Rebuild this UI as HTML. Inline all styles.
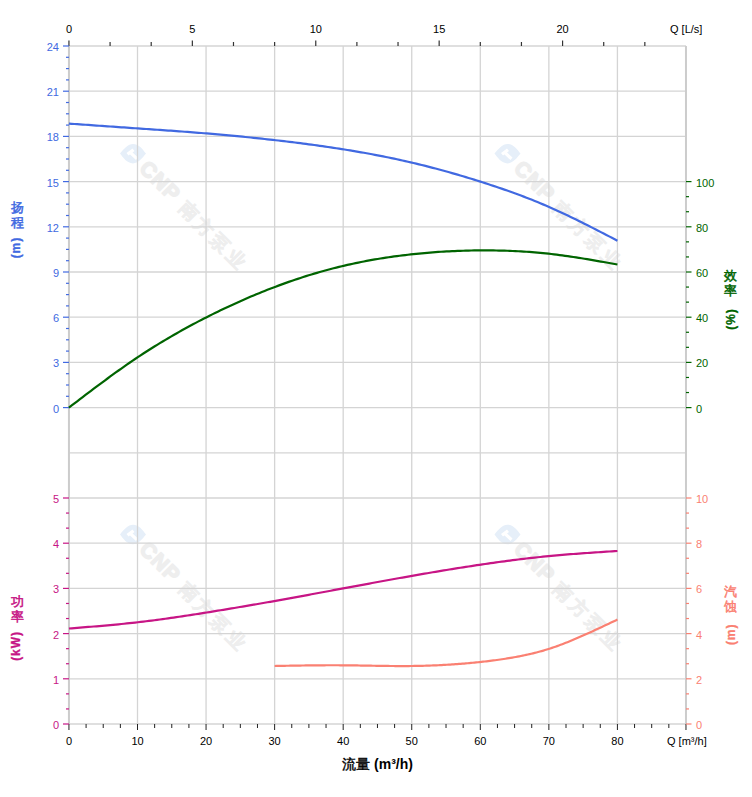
<!DOCTYPE html>
<html><head><meta charset="utf-8"><style>
html,body{margin:0;padding:0;background:#fff;width:752px;height:797px;overflow:hidden;position:relative}
svg{position:absolute;left:0;top:0}
.xt{position:absolute;font-family:"Liberation Sans",sans-serif;font-weight:bold;font-size:14px;line-height:14px;white-space:nowrap;color:#000}
</style></head><body>
<svg width="752" height="797" viewBox="0 0 752 797">
<g transform="translate(133,153.6)">
<path d="M-13,0 C-9,-5 -5,-9.7 0,-9.7 C6,-9.7 10,-4 13,0 C9,5 5,9.8 0,9.8 C-6,9.8 -10,4 -13,0 Z" fill="#e6eff9"/>
<path d="M-6.5,-0.5 L-0.5,-5 L1.5,-2.5 L-4.5,2 Z M-2,-2.5 L5,4 L3,6.5 L-4,0 Z" fill="#ffffff"/>
</g>
<g transform="translate(133,153.6) rotate(45)">
<text x="15" y="7.5" font-family="'Liberation Sans', sans-serif" font-weight="bold" font-size="21" letter-spacing="1" fill="#eeeeee" stroke="#eeeeee" stroke-width="1.6" stroke-linejoin="round">CNP</text>
<text x="71" y="8" font-family="'Liberation Sans', sans-serif" font-weight="bold" font-size="18.5" letter-spacing="3.4" fill="#eeeeee" stroke="#eeeeee" stroke-width="0.6">南方泵业</text>
</g>
<g transform="translate(507.5,153.6)">
<path d="M-13,0 C-9,-5 -5,-9.7 0,-9.7 C6,-9.7 10,-4 13,0 C9,5 5,9.8 0,9.8 C-6,9.8 -10,4 -13,0 Z" fill="#e6eff9"/>
<path d="M-6.5,-0.5 L-0.5,-5 L1.5,-2.5 L-4.5,2 Z M-2,-2.5 L5,4 L3,6.5 L-4,0 Z" fill="#ffffff"/>
</g>
<g transform="translate(507.5,153.6) rotate(45)">
<text x="15" y="7.5" font-family="'Liberation Sans', sans-serif" font-weight="bold" font-size="21" letter-spacing="1" fill="#eeeeee" stroke="#eeeeee" stroke-width="1.6" stroke-linejoin="round">CNP</text>
<text x="71" y="8" font-family="'Liberation Sans', sans-serif" font-weight="bold" font-size="18.5" letter-spacing="3.4" fill="#eeeeee" stroke="#eeeeee" stroke-width="0.6">南方泵业</text>
</g>
<g transform="translate(133,534.5)">
<path d="M-13,0 C-9,-5 -5,-9.7 0,-9.7 C6,-9.7 10,-4 13,0 C9,5 5,9.8 0,9.8 C-6,9.8 -10,4 -13,0 Z" fill="#e6eff9"/>
<path d="M-6.5,-0.5 L-0.5,-5 L1.5,-2.5 L-4.5,2 Z M-2,-2.5 L5,4 L3,6.5 L-4,0 Z" fill="#ffffff"/>
</g>
<g transform="translate(133,534.5) rotate(45)">
<text x="15" y="7.5" font-family="'Liberation Sans', sans-serif" font-weight="bold" font-size="21" letter-spacing="1" fill="#eeeeee" stroke="#eeeeee" stroke-width="1.6" stroke-linejoin="round">CNP</text>
<text x="71" y="8" font-family="'Liberation Sans', sans-serif" font-weight="bold" font-size="18.5" letter-spacing="3.4" fill="#eeeeee" stroke="#eeeeee" stroke-width="0.6">南方泵业</text>
</g>
<g transform="translate(507.5,534.5)">
<path d="M-13,0 C-9,-5 -5,-9.7 0,-9.7 C6,-9.7 10,-4 13,0 C9,5 5,9.8 0,9.8 C-6,9.8 -10,4 -13,0 Z" fill="#e6eff9"/>
<path d="M-6.5,-0.5 L-0.5,-5 L1.5,-2.5 L-4.5,2 Z M-2,-2.5 L5,4 L3,6.5 L-4,0 Z" fill="#ffffff"/>
</g>
<g transform="translate(507.5,534.5) rotate(45)">
<text x="15" y="7.5" font-family="'Liberation Sans', sans-serif" font-weight="bold" font-size="21" letter-spacing="1" fill="#eeeeee" stroke="#eeeeee" stroke-width="1.6" stroke-linejoin="round">CNP</text>
<text x="71" y="8" font-family="'Liberation Sans', sans-serif" font-weight="bold" font-size="18.5" letter-spacing="3.4" fill="#eeeeee" stroke="#eeeeee" stroke-width="0.6">南方泵业</text>
</g>
<line x1="68.94" y1="46.0" x2="685.98" y2="46.0" stroke="#d4d4d4" stroke-width="1.3"/>
<line x1="68.94" y1="91.2" x2="685.98" y2="91.2" stroke="#d4d4d4" stroke-width="1.3"/>
<line x1="68.94" y1="136.4" x2="685.98" y2="136.4" stroke="#d4d4d4" stroke-width="1.3"/>
<line x1="68.94" y1="181.60000000000002" x2="685.98" y2="181.60000000000002" stroke="#d4d4d4" stroke-width="1.3"/>
<line x1="68.94" y1="226.8" x2="685.98" y2="226.8" stroke="#d4d4d4" stroke-width="1.3"/>
<line x1="68.94" y1="272.0" x2="685.98" y2="272.0" stroke="#d4d4d4" stroke-width="1.3"/>
<line x1="68.94" y1="317.20000000000005" x2="685.98" y2="317.20000000000005" stroke="#d4d4d4" stroke-width="1.3"/>
<line x1="68.94" y1="362.40000000000003" x2="685.98" y2="362.40000000000003" stroke="#d4d4d4" stroke-width="1.3"/>
<line x1="68.94" y1="407.6" x2="685.98" y2="407.6" stroke="#d4d4d4" stroke-width="1.3"/>
<line x1="68.94" y1="452.8" x2="685.98" y2="452.8" stroke="#d4d4d4" stroke-width="1.3"/>
<line x1="68.94" y1="498.0" x2="685.98" y2="498.0" stroke="#d4d4d4" stroke-width="1.3"/>
<line x1="68.94" y1="543.2" x2="685.98" y2="543.2" stroke="#d4d4d4" stroke-width="1.3"/>
<line x1="68.94" y1="588.4000000000001" x2="685.98" y2="588.4000000000001" stroke="#d4d4d4" stroke-width="1.3"/>
<line x1="68.94" y1="633.6" x2="685.98" y2="633.6" stroke="#d4d4d4" stroke-width="1.3"/>
<line x1="68.94" y1="678.8000000000001" x2="685.98" y2="678.8000000000001" stroke="#d4d4d4" stroke-width="1.3"/>
<line x1="68.94" y1="724.0" x2="685.98" y2="724.0" stroke="#d4d4d4" stroke-width="1.3"/>
<line x1="68.94" y1="46.0" x2="68.94" y2="724.0" stroke="#d4d4d4" stroke-width="1.3"/>
<line x1="137.5" y1="46.0" x2="137.5" y2="724.0" stroke="#d4d4d4" stroke-width="1.3"/>
<line x1="206.06" y1="46.0" x2="206.06" y2="724.0" stroke="#d4d4d4" stroke-width="1.3"/>
<line x1="274.62" y1="46.0" x2="274.62" y2="724.0" stroke="#d4d4d4" stroke-width="1.3"/>
<line x1="343.18" y1="46.0" x2="343.18" y2="724.0" stroke="#d4d4d4" stroke-width="1.3"/>
<line x1="411.74" y1="46.0" x2="411.74" y2="724.0" stroke="#d4d4d4" stroke-width="1.3"/>
<line x1="480.3" y1="46.0" x2="480.3" y2="724.0" stroke="#d4d4d4" stroke-width="1.3"/>
<line x1="548.86" y1="46.0" x2="548.86" y2="724.0" stroke="#d4d4d4" stroke-width="1.3"/>
<line x1="617.4200000000001" y1="46.0" x2="617.4200000000001" y2="724.0" stroke="#d4d4d4" stroke-width="1.3"/>
<line x1="685.98" y1="46.0" x2="685.98" y2="724.0" stroke="#d4d4d4" stroke-width="1.3"/>
<line x1="68.94" y1="46.0" x2="68.94" y2="724.0" stroke="#cccccc" stroke-width="2"/>
<line x1="685.98" y1="46.0" x2="685.98" y2="724.0" stroke="#cccccc" stroke-width="2"/>
<line x1="68.94" y1="40.50" x2="68.94" y2="46.0" stroke="#333" stroke-width="1.2"/>
<line x1="110.08" y1="42.00" x2="110.08" y2="46.0" stroke="#333" stroke-width="1.2"/>
<line x1="151.21" y1="42.00" x2="151.21" y2="46.0" stroke="#333" stroke-width="1.2"/>
<line x1="192.35" y1="40.50" x2="192.35" y2="46.0" stroke="#333" stroke-width="1.2"/>
<line x1="233.48" y1="42.00" x2="233.48" y2="46.0" stroke="#333" stroke-width="1.2"/>
<line x1="274.62" y1="42.00" x2="274.62" y2="46.0" stroke="#333" stroke-width="1.2"/>
<line x1="315.76" y1="40.50" x2="315.76" y2="46.0" stroke="#333" stroke-width="1.2"/>
<line x1="356.89" y1="42.00" x2="356.89" y2="46.0" stroke="#333" stroke-width="1.2"/>
<line x1="398.03" y1="42.00" x2="398.03" y2="46.0" stroke="#333" stroke-width="1.2"/>
<line x1="439.16" y1="40.50" x2="439.16" y2="46.0" stroke="#333" stroke-width="1.2"/>
<line x1="480.30" y1="42.00" x2="480.30" y2="46.0" stroke="#333" stroke-width="1.2"/>
<line x1="521.44" y1="42.00" x2="521.44" y2="46.0" stroke="#333" stroke-width="1.2"/>
<line x1="562.57" y1="40.50" x2="562.57" y2="46.0" stroke="#333" stroke-width="1.2"/>
<line x1="603.71" y1="42.00" x2="603.71" y2="46.0" stroke="#333" stroke-width="1.2"/>
<line x1="644.84" y1="42.00" x2="644.84" y2="46.0" stroke="#333" stroke-width="1.2"/>
<text x="68.94" y="33" text-anchor="middle" font-family="'Liberation Sans', sans-serif" font-size="11" fill="#000">0</text>
<text x="192.35" y="33" text-anchor="middle" font-family="'Liberation Sans', sans-serif" font-size="11" fill="#000">5</text>
<text x="315.76" y="33" text-anchor="middle" font-family="'Liberation Sans', sans-serif" font-size="11" fill="#000">10</text>
<text x="439.16" y="33" text-anchor="middle" font-family="'Liberation Sans', sans-serif" font-size="11" fill="#000">15</text>
<text x="562.57" y="33" text-anchor="middle" font-family="'Liberation Sans', sans-serif" font-size="11" fill="#000">20</text>
<text x="670" y="33" font-family="'Liberation Sans', sans-serif" font-size="11" fill="#000">Q [L/s]</text>
<line x1="68.94" y1="724.0" x2="68.94" y2="730.0" stroke="#222" stroke-width="1"/>
<line x1="86.08" y1="724.0" x2="86.08" y2="728.0" stroke="#222" stroke-width="1"/>
<line x1="103.22" y1="724.0" x2="103.22" y2="728.0" stroke="#222" stroke-width="1"/>
<line x1="120.36" y1="724.0" x2="120.36" y2="728.0" stroke="#222" stroke-width="1"/>
<line x1="137.50" y1="724.0" x2="137.50" y2="730.0" stroke="#222" stroke-width="1"/>
<line x1="154.64" y1="724.0" x2="154.64" y2="728.0" stroke="#222" stroke-width="1"/>
<line x1="171.78" y1="724.0" x2="171.78" y2="728.0" stroke="#222" stroke-width="1"/>
<line x1="188.92" y1="724.0" x2="188.92" y2="728.0" stroke="#222" stroke-width="1"/>
<line x1="206.06" y1="724.0" x2="206.06" y2="730.0" stroke="#222" stroke-width="1"/>
<line x1="223.20" y1="724.0" x2="223.20" y2="728.0" stroke="#222" stroke-width="1"/>
<line x1="240.34" y1="724.0" x2="240.34" y2="728.0" stroke="#222" stroke-width="1"/>
<line x1="257.48" y1="724.0" x2="257.48" y2="728.0" stroke="#222" stroke-width="1"/>
<line x1="274.62" y1="724.0" x2="274.62" y2="730.0" stroke="#222" stroke-width="1"/>
<line x1="291.76" y1="724.0" x2="291.76" y2="728.0" stroke="#222" stroke-width="1"/>
<line x1="308.90" y1="724.0" x2="308.90" y2="728.0" stroke="#222" stroke-width="1"/>
<line x1="326.04" y1="724.0" x2="326.04" y2="728.0" stroke="#222" stroke-width="1"/>
<line x1="343.18" y1="724.0" x2="343.18" y2="730.0" stroke="#222" stroke-width="1"/>
<line x1="360.32" y1="724.0" x2="360.32" y2="728.0" stroke="#222" stroke-width="1"/>
<line x1="377.46" y1="724.0" x2="377.46" y2="728.0" stroke="#222" stroke-width="1"/>
<line x1="394.60" y1="724.0" x2="394.60" y2="728.0" stroke="#222" stroke-width="1"/>
<line x1="411.74" y1="724.0" x2="411.74" y2="730.0" stroke="#222" stroke-width="1"/>
<line x1="428.88" y1="724.0" x2="428.88" y2="728.0" stroke="#222" stroke-width="1"/>
<line x1="446.02" y1="724.0" x2="446.02" y2="728.0" stroke="#222" stroke-width="1"/>
<line x1="463.16" y1="724.0" x2="463.16" y2="728.0" stroke="#222" stroke-width="1"/>
<line x1="480.30" y1="724.0" x2="480.30" y2="730.0" stroke="#222" stroke-width="1"/>
<line x1="497.44" y1="724.0" x2="497.44" y2="728.0" stroke="#222" stroke-width="1"/>
<line x1="514.58" y1="724.0" x2="514.58" y2="728.0" stroke="#222" stroke-width="1"/>
<line x1="531.72" y1="724.0" x2="531.72" y2="728.0" stroke="#222" stroke-width="1"/>
<line x1="548.86" y1="724.0" x2="548.86" y2="730.0" stroke="#222" stroke-width="1"/>
<line x1="566.00" y1="724.0" x2="566.00" y2="728.0" stroke="#222" stroke-width="1"/>
<line x1="583.14" y1="724.0" x2="583.14" y2="728.0" stroke="#222" stroke-width="1"/>
<line x1="600.28" y1="724.0" x2="600.28" y2="728.0" stroke="#222" stroke-width="1"/>
<line x1="617.42" y1="724.0" x2="617.42" y2="730.0" stroke="#222" stroke-width="1"/>
<line x1="634.56" y1="724.0" x2="634.56" y2="728.0" stroke="#222" stroke-width="1"/>
<line x1="651.70" y1="724.0" x2="651.70" y2="728.0" stroke="#222" stroke-width="1"/>
<line x1="668.84" y1="724.0" x2="668.84" y2="728.0" stroke="#222" stroke-width="1"/>
<line x1="685.98" y1="724.0" x2="685.98" y2="730.0" stroke="#222" stroke-width="1"/>
<text x="68.94" y="745" text-anchor="middle" font-family="'Liberation Sans', sans-serif" font-size="11" fill="#000">0</text>
<text x="137.50" y="745" text-anchor="middle" font-family="'Liberation Sans', sans-serif" font-size="11" fill="#000">10</text>
<text x="206.06" y="745" text-anchor="middle" font-family="'Liberation Sans', sans-serif" font-size="11" fill="#000">20</text>
<text x="274.62" y="745" text-anchor="middle" font-family="'Liberation Sans', sans-serif" font-size="11" fill="#000">30</text>
<text x="343.18" y="745" text-anchor="middle" font-family="'Liberation Sans', sans-serif" font-size="11" fill="#000">40</text>
<text x="411.74" y="745" text-anchor="middle" font-family="'Liberation Sans', sans-serif" font-size="11" fill="#000">50</text>
<text x="480.30" y="745" text-anchor="middle" font-family="'Liberation Sans', sans-serif" font-size="11" fill="#000">60</text>
<text x="548.86" y="745" text-anchor="middle" font-family="'Liberation Sans', sans-serif" font-size="11" fill="#000">70</text>
<text x="617.42" y="745" text-anchor="middle" font-family="'Liberation Sans', sans-serif" font-size="11" fill="#000">80</text>
<text x="667" y="745" font-family="'Liberation Sans', sans-serif" font-size="11" fill="#000">Q [m³/h]</text>
<line x1="63" y1="407.60" x2="68.94" y2="407.60" stroke="#4169E1" stroke-width="1.2"/>
<text x="59" y="412.60" text-anchor="end" font-family="'Liberation Sans', sans-serif" font-size="11" fill="#4169E1">0</text>
<line x1="66" y1="396.30" x2="68.94" y2="396.30" stroke="#4169E1" stroke-width="1.2"/>
<line x1="66" y1="385.00" x2="68.94" y2="385.00" stroke="#4169E1" stroke-width="1.2"/>
<line x1="66" y1="373.70" x2="68.94" y2="373.70" stroke="#4169E1" stroke-width="1.2"/>
<line x1="63" y1="362.40" x2="68.94" y2="362.40" stroke="#4169E1" stroke-width="1.2"/>
<text x="59" y="367.40" text-anchor="end" font-family="'Liberation Sans', sans-serif" font-size="11" fill="#4169E1">3</text>
<line x1="66" y1="351.10" x2="68.94" y2="351.10" stroke="#4169E1" stroke-width="1.2"/>
<line x1="66" y1="339.80" x2="68.94" y2="339.80" stroke="#4169E1" stroke-width="1.2"/>
<line x1="66" y1="328.50" x2="68.94" y2="328.50" stroke="#4169E1" stroke-width="1.2"/>
<line x1="63" y1="317.20" x2="68.94" y2="317.20" stroke="#4169E1" stroke-width="1.2"/>
<text x="59" y="322.20" text-anchor="end" font-family="'Liberation Sans', sans-serif" font-size="11" fill="#4169E1">6</text>
<line x1="66" y1="305.90" x2="68.94" y2="305.90" stroke="#4169E1" stroke-width="1.2"/>
<line x1="66" y1="294.60" x2="68.94" y2="294.60" stroke="#4169E1" stroke-width="1.2"/>
<line x1="66" y1="283.30" x2="68.94" y2="283.30" stroke="#4169E1" stroke-width="1.2"/>
<line x1="63" y1="272.00" x2="68.94" y2="272.00" stroke="#4169E1" stroke-width="1.2"/>
<text x="59" y="277.00" text-anchor="end" font-family="'Liberation Sans', sans-serif" font-size="11" fill="#4169E1">9</text>
<line x1="66" y1="260.70" x2="68.94" y2="260.70" stroke="#4169E1" stroke-width="1.2"/>
<line x1="66" y1="249.40" x2="68.94" y2="249.40" stroke="#4169E1" stroke-width="1.2"/>
<line x1="66" y1="238.10" x2="68.94" y2="238.10" stroke="#4169E1" stroke-width="1.2"/>
<line x1="63" y1="226.80" x2="68.94" y2="226.80" stroke="#4169E1" stroke-width="1.2"/>
<text x="59" y="231.80" text-anchor="end" font-family="'Liberation Sans', sans-serif" font-size="11" fill="#4169E1">12</text>
<line x1="66" y1="215.50" x2="68.94" y2="215.50" stroke="#4169E1" stroke-width="1.2"/>
<line x1="66" y1="204.20" x2="68.94" y2="204.20" stroke="#4169E1" stroke-width="1.2"/>
<line x1="66" y1="192.90" x2="68.94" y2="192.90" stroke="#4169E1" stroke-width="1.2"/>
<line x1="63" y1="181.60" x2="68.94" y2="181.60" stroke="#4169E1" stroke-width="1.2"/>
<text x="59" y="186.60" text-anchor="end" font-family="'Liberation Sans', sans-serif" font-size="11" fill="#4169E1">15</text>
<line x1="66" y1="170.30" x2="68.94" y2="170.30" stroke="#4169E1" stroke-width="1.2"/>
<line x1="66" y1="159.00" x2="68.94" y2="159.00" stroke="#4169E1" stroke-width="1.2"/>
<line x1="66" y1="147.70" x2="68.94" y2="147.70" stroke="#4169E1" stroke-width="1.2"/>
<line x1="63" y1="136.40" x2="68.94" y2="136.40" stroke="#4169E1" stroke-width="1.2"/>
<text x="59" y="141.40" text-anchor="end" font-family="'Liberation Sans', sans-serif" font-size="11" fill="#4169E1">18</text>
<line x1="66" y1="125.10" x2="68.94" y2="125.10" stroke="#4169E1" stroke-width="1.2"/>
<line x1="66" y1="113.80" x2="68.94" y2="113.80" stroke="#4169E1" stroke-width="1.2"/>
<line x1="66" y1="102.50" x2="68.94" y2="102.50" stroke="#4169E1" stroke-width="1.2"/>
<line x1="63" y1="91.20" x2="68.94" y2="91.20" stroke="#4169E1" stroke-width="1.2"/>
<text x="59" y="96.20" text-anchor="end" font-family="'Liberation Sans', sans-serif" font-size="11" fill="#4169E1">21</text>
<line x1="66" y1="79.90" x2="68.94" y2="79.90" stroke="#4169E1" stroke-width="1.2"/>
<line x1="66" y1="68.60" x2="68.94" y2="68.60" stroke="#4169E1" stroke-width="1.2"/>
<line x1="66" y1="57.30" x2="68.94" y2="57.30" stroke="#4169E1" stroke-width="1.2"/>
<line x1="63" y1="46.00" x2="68.94" y2="46.00" stroke="#4169E1" stroke-width="1.2"/>
<text x="59" y="51.00" text-anchor="end" font-family="'Liberation Sans', sans-serif" font-size="11" fill="#4169E1">24</text>
<line x1="63" y1="724.00" x2="68.94" y2="724.00" stroke="#C71585" stroke-width="1.2"/>
<text x="59" y="729.00" text-anchor="end" font-family="'Liberation Sans', sans-serif" font-size="11" fill="#C71585">0</text>
<line x1="66" y1="708.93" x2="68.94" y2="708.93" stroke="#C71585" stroke-width="1.2"/>
<line x1="66" y1="693.87" x2="68.94" y2="693.87" stroke="#C71585" stroke-width="1.2"/>
<line x1="63" y1="678.80" x2="68.94" y2="678.80" stroke="#C71585" stroke-width="1.2"/>
<text x="59" y="683.80" text-anchor="end" font-family="'Liberation Sans', sans-serif" font-size="11" fill="#C71585">1</text>
<line x1="66" y1="663.73" x2="68.94" y2="663.73" stroke="#C71585" stroke-width="1.2"/>
<line x1="66" y1="648.67" x2="68.94" y2="648.67" stroke="#C71585" stroke-width="1.2"/>
<line x1="63" y1="633.60" x2="68.94" y2="633.60" stroke="#C71585" stroke-width="1.2"/>
<text x="59" y="638.60" text-anchor="end" font-family="'Liberation Sans', sans-serif" font-size="11" fill="#C71585">2</text>
<line x1="66" y1="618.53" x2="68.94" y2="618.53" stroke="#C71585" stroke-width="1.2"/>
<line x1="66" y1="603.47" x2="68.94" y2="603.47" stroke="#C71585" stroke-width="1.2"/>
<line x1="63" y1="588.40" x2="68.94" y2="588.40" stroke="#C71585" stroke-width="1.2"/>
<text x="59" y="593.40" text-anchor="end" font-family="'Liberation Sans', sans-serif" font-size="11" fill="#C71585">3</text>
<line x1="66" y1="573.33" x2="68.94" y2="573.33" stroke="#C71585" stroke-width="1.2"/>
<line x1="66" y1="558.27" x2="68.94" y2="558.27" stroke="#C71585" stroke-width="1.2"/>
<line x1="63" y1="543.20" x2="68.94" y2="543.20" stroke="#C71585" stroke-width="1.2"/>
<text x="59" y="548.20" text-anchor="end" font-family="'Liberation Sans', sans-serif" font-size="11" fill="#C71585">4</text>
<line x1="66" y1="528.13" x2="68.94" y2="528.13" stroke="#C71585" stroke-width="1.2"/>
<line x1="66" y1="513.07" x2="68.94" y2="513.07" stroke="#C71585" stroke-width="1.2"/>
<line x1="63" y1="498.00" x2="68.94" y2="498.00" stroke="#C71585" stroke-width="1.2"/>
<text x="59" y="503.00" text-anchor="end" font-family="'Liberation Sans', sans-serif" font-size="11" fill="#C71585">5</text>
<line x1="685.98" y1="407.60" x2="691.5" y2="407.60" stroke="#006400" stroke-width="1.2"/>
<text x="696" y="412.60" font-family="'Liberation Sans', sans-serif" font-size="11" fill="#006400">0</text>
<line x1="685.98" y1="392.53" x2="689" y2="392.53" stroke="#006400" stroke-width="1.2"/>
<line x1="685.98" y1="377.47" x2="689" y2="377.47" stroke="#006400" stroke-width="1.2"/>
<line x1="685.98" y1="362.40" x2="691.5" y2="362.40" stroke="#006400" stroke-width="1.2"/>
<text x="696" y="367.40" font-family="'Liberation Sans', sans-serif" font-size="11" fill="#006400">20</text>
<line x1="685.98" y1="347.33" x2="689" y2="347.33" stroke="#006400" stroke-width="1.2"/>
<line x1="685.98" y1="332.27" x2="689" y2="332.27" stroke="#006400" stroke-width="1.2"/>
<line x1="685.98" y1="317.20" x2="691.5" y2="317.20" stroke="#006400" stroke-width="1.2"/>
<text x="696" y="322.20" font-family="'Liberation Sans', sans-serif" font-size="11" fill="#006400">40</text>
<line x1="685.98" y1="302.13" x2="689" y2="302.13" stroke="#006400" stroke-width="1.2"/>
<line x1="685.98" y1="287.07" x2="689" y2="287.07" stroke="#006400" stroke-width="1.2"/>
<line x1="685.98" y1="272.00" x2="691.5" y2="272.00" stroke="#006400" stroke-width="1.2"/>
<text x="696" y="277.00" font-family="'Liberation Sans', sans-serif" font-size="11" fill="#006400">60</text>
<line x1="685.98" y1="256.93" x2="689" y2="256.93" stroke="#006400" stroke-width="1.2"/>
<line x1="685.98" y1="241.87" x2="689" y2="241.87" stroke="#006400" stroke-width="1.2"/>
<line x1="685.98" y1="226.80" x2="691.5" y2="226.80" stroke="#006400" stroke-width="1.2"/>
<text x="696" y="231.80" font-family="'Liberation Sans', sans-serif" font-size="11" fill="#006400">80</text>
<line x1="685.98" y1="211.73" x2="689" y2="211.73" stroke="#006400" stroke-width="1.2"/>
<line x1="685.98" y1="196.67" x2="689" y2="196.67" stroke="#006400" stroke-width="1.2"/>
<line x1="685.98" y1="181.60" x2="691.5" y2="181.60" stroke="#006400" stroke-width="1.2"/>
<text x="696" y="186.60" font-family="'Liberation Sans', sans-serif" font-size="11" fill="#006400">100</text>
<line x1="685.98" y1="724.00" x2="691.5" y2="724.00" stroke="#FA8072" stroke-width="1.2"/>
<text x="696" y="729.00" font-family="'Liberation Sans', sans-serif" font-size="11" fill="#FA8072">0</text>
<line x1="685.98" y1="708.93" x2="689" y2="708.93" stroke="#FA8072" stroke-width="1.2"/>
<line x1="685.98" y1="693.87" x2="689" y2="693.87" stroke="#FA8072" stroke-width="1.2"/>
<line x1="685.98" y1="678.80" x2="691.5" y2="678.80" stroke="#FA8072" stroke-width="1.2"/>
<text x="696" y="683.80" font-family="'Liberation Sans', sans-serif" font-size="11" fill="#FA8072">2</text>
<line x1="685.98" y1="663.73" x2="689" y2="663.73" stroke="#FA8072" stroke-width="1.2"/>
<line x1="685.98" y1="648.67" x2="689" y2="648.67" stroke="#FA8072" stroke-width="1.2"/>
<line x1="685.98" y1="633.60" x2="691.5" y2="633.60" stroke="#FA8072" stroke-width="1.2"/>
<text x="696" y="638.60" font-family="'Liberation Sans', sans-serif" font-size="11" fill="#FA8072">4</text>
<line x1="685.98" y1="618.53" x2="689" y2="618.53" stroke="#FA8072" stroke-width="1.2"/>
<line x1="685.98" y1="603.47" x2="689" y2="603.47" stroke="#FA8072" stroke-width="1.2"/>
<line x1="685.98" y1="588.40" x2="691.5" y2="588.40" stroke="#FA8072" stroke-width="1.2"/>
<text x="696" y="593.40" font-family="'Liberation Sans', sans-serif" font-size="11" fill="#FA8072">6</text>
<line x1="685.98" y1="573.33" x2="689" y2="573.33" stroke="#FA8072" stroke-width="1.2"/>
<line x1="685.98" y1="558.27" x2="689" y2="558.27" stroke="#FA8072" stroke-width="1.2"/>
<line x1="685.98" y1="543.20" x2="691.5" y2="543.20" stroke="#FA8072" stroke-width="1.2"/>
<text x="696" y="548.20" font-family="'Liberation Sans', sans-serif" font-size="11" fill="#FA8072">8</text>
<line x1="685.98" y1="528.13" x2="689" y2="528.13" stroke="#FA8072" stroke-width="1.2"/>
<line x1="685.98" y1="513.07" x2="689" y2="513.07" stroke="#FA8072" stroke-width="1.2"/>
<line x1="685.98" y1="498.00" x2="691.5" y2="498.00" stroke="#FA8072" stroke-width="1.2"/>
<text x="696" y="503.00" font-family="'Liberation Sans', sans-serif" font-size="11" fill="#FA8072">10</text>
<path d="M68.94,123.60 L71.70,123.79 L74.45,123.99 L77.21,124.18 L79.96,124.38 L82.72,124.57 L85.48,124.77 L88.23,124.96 L90.99,125.15 L93.75,125.35 L96.50,125.54 L99.26,125.74 L102.01,125.93 L104.77,126.12 L107.53,126.32 L110.28,126.51 L113.04,126.70 L115.80,126.89 L118.55,127.09 L121.31,127.28 L124.06,127.47 L126.82,127.66 L129.58,127.85 L132.33,128.04 L135.09,128.23 L137.84,128.42 L140.60,128.61 L143.36,128.80 L146.11,128.99 L148.87,129.18 L151.63,129.37 L154.38,129.56 L157.14,129.75 L159.89,129.95 L162.65,130.14 L165.41,130.33 L168.16,130.53 L170.92,130.72 L173.67,130.92 L176.43,131.12 L179.19,131.32 L181.94,131.52 L184.70,131.73 L187.46,131.94 L190.21,132.14 L192.97,132.36 L195.72,132.57 L198.48,132.79 L201.24,133.01 L203.99,133.23 L206.75,133.46 L209.51,133.69 L212.26,133.92 L215.02,134.16 L217.77,134.39 L220.53,134.64 L223.29,134.88 L226.04,135.13 L228.80,135.39 L231.55,135.64 L234.31,135.90 L237.07,136.17 L239.82,136.43 L242.58,136.70 L245.34,136.98 L248.09,137.25 L250.85,137.53 L253.60,137.82 L256.36,138.11 L259.12,138.40 L261.87,138.69 L264.63,138.99 L267.39,139.29 L270.14,139.60 L272.90,139.91 L275.65,140.22 L278.41,140.53 L281.17,140.85 L283.92,141.18 L286.68,141.51 L289.43,141.84 L292.19,142.17 L294.95,142.51 L297.70,142.86 L300.46,143.21 L303.22,143.56 L305.97,143.92 L308.73,144.29 L311.48,144.66 L314.24,145.03 L317.00,145.41 L319.75,145.79 L322.51,146.18 L325.26,146.58 L328.02,146.98 L330.78,147.39 L333.53,147.80 L336.29,148.22 L339.05,148.65 L341.80,149.08 L344.56,149.52 L347.31,149.97 L350.07,150.42 L352.83,150.88 L355.58,151.34 L358.34,151.81 L361.10,152.30 L363.85,152.78 L366.61,153.28 L369.36,153.78 L372.12,154.29 L374.88,154.81 L377.63,155.34 L380.39,155.87 L383.14,156.42 L385.90,156.97 L388.66,157.53 L391.41,158.10 L394.17,158.68 L396.93,159.27 L399.68,159.87 L402.44,160.48 L405.19,161.09 L407.95,161.72 L410.71,162.36 L413.46,163.01 L416.22,163.66 L418.97,164.33 L421.73,165.01 L424.49,165.69 L427.24,166.39 L430.00,167.10 L432.76,167.81 L435.51,168.54 L438.27,169.28 L441.02,170.02 L443.78,170.77 L446.54,171.54 L449.29,172.31 L452.05,173.09 L454.81,173.88 L457.56,174.68 L460.32,175.49 L463.07,176.30 L465.83,177.13 L468.59,177.96 L471.34,178.81 L474.10,179.66 L476.85,180.52 L479.61,181.38 L482.37,182.26 L485.12,183.14 L487.88,184.03 L490.64,184.93 L493.39,185.85 L496.15,186.77 L498.90,187.70 L501.66,188.64 L504.42,189.60 L507.17,190.56 L509.93,191.54 L512.69,192.53 L515.44,193.53 L518.20,194.55 L520.95,195.58 L523.71,196.63 L526.47,197.69 L529.22,198.76 L531.98,199.85 L534.73,200.96 L537.49,202.08 L540.25,203.22 L543.00,204.38 L545.76,205.56 L548.52,206.75 L551.27,207.96 L554.03,209.19 L556.78,210.44 L559.54,211.70 L562.30,212.98 L565.05,214.27 L567.81,215.58 L570.56,216.90 L573.32,218.24 L576.08,219.58 L578.83,220.94 L581.59,222.31 L584.35,223.69 L587.10,225.07 L589.86,226.47 L592.61,227.87 L595.37,229.28 L598.13,230.69 L600.88,232.11 L603.64,233.54 L606.40,234.96 L609.15,236.40 L611.91,237.83 L614.66,239.26 L617.42,240.70" fill="none" stroke="#4169E1" stroke-width="2.2" stroke-linejoin="round"/>
<path d="M68.94,407.60 L71.70,405.49 L74.45,403.39 L77.21,401.28 L79.96,399.18 L82.72,397.08 L85.48,394.99 L88.23,392.90 L90.99,390.82 L93.75,388.74 L96.50,386.67 L99.26,384.61 L102.01,382.56 L104.77,380.52 L107.53,378.49 L110.28,376.48 L113.04,374.47 L115.80,372.48 L118.55,370.51 L121.31,368.55 L124.06,366.61 L126.82,364.68 L129.58,362.77 L132.33,360.89 L135.09,359.02 L137.84,357.17 L140.60,355.34 L143.36,353.54 L146.11,351.75 L148.87,349.99 L151.63,348.25 L154.38,346.52 L157.14,344.82 L159.89,343.14 L162.65,341.47 L165.41,339.82 L168.16,338.19 L170.92,336.58 L173.67,334.99 L176.43,333.42 L179.19,331.86 L181.94,330.32 L184.70,328.79 L187.46,327.28 L190.21,325.79 L192.97,324.31 L195.72,322.85 L198.48,321.40 L201.24,319.97 L203.99,318.55 L206.75,317.15 L209.51,315.76 L212.26,314.38 L215.02,313.02 L217.77,311.67 L220.53,310.34 L223.29,309.02 L226.04,307.71 L228.80,306.42 L231.55,305.14 L234.31,303.88 L237.07,302.63 L239.82,301.39 L242.58,300.17 L245.34,298.97 L248.09,297.77 L250.85,296.60 L253.60,295.43 L256.36,294.28 L259.12,293.15 L261.87,292.03 L264.63,290.93 L267.39,289.84 L270.14,288.76 L272.90,287.70 L275.65,286.66 L278.41,285.63 L281.17,284.62 L283.92,283.62 L286.68,282.63 L289.43,281.66 L292.19,280.71 L294.95,279.77 L297.70,278.85 L300.46,277.94 L303.22,277.05 L305.97,276.17 L308.73,275.31 L311.48,274.47 L314.24,273.64 L317.00,272.83 L319.75,272.03 L322.51,271.25 L325.26,270.48 L328.02,269.73 L330.78,269.00 L333.53,268.28 L336.29,267.58 L339.05,266.90 L341.80,266.23 L344.56,265.58 L347.31,264.94 L350.07,264.32 L352.83,263.72 L355.58,263.13 L358.34,262.56 L361.10,262.00 L363.85,261.46 L366.61,260.93 L369.36,260.42 L372.12,259.93 L374.88,259.44 L377.63,258.98 L380.39,258.52 L383.14,258.08 L385.90,257.66 L388.66,257.25 L391.41,256.85 L394.17,256.46 L396.93,256.09 L399.68,255.73 L402.44,255.38 L405.19,255.05 L407.95,254.72 L410.71,254.41 L413.46,254.11 L416.22,253.83 L418.97,253.55 L421.73,253.29 L424.49,253.04 L427.24,252.80 L430.00,252.57 L432.76,252.36 L435.51,252.15 L438.27,251.96 L441.02,251.77 L443.78,251.60 L446.54,251.44 L449.29,251.30 L452.05,251.16 L454.81,251.03 L457.56,250.92 L460.32,250.82 L463.07,250.73 L465.83,250.64 L468.59,250.57 L471.34,250.52 L474.10,250.47 L476.85,250.43 L479.61,250.40 L482.37,250.39 L485.12,250.39 L487.88,250.39 L490.64,250.41 L493.39,250.44 L496.15,250.48 L498.90,250.53 L501.66,250.60 L504.42,250.68 L507.17,250.76 L509.93,250.87 L512.69,250.98 L515.44,251.11 L518.20,251.25 L520.95,251.40 L523.71,251.57 L526.47,251.75 L529.22,251.95 L531.98,252.16 L534.73,252.38 L537.49,252.62 L540.25,252.87 L543.00,253.13 L545.76,253.42 L548.52,253.71 L551.27,254.02 L554.03,254.35 L556.78,254.69 L559.54,255.04 L562.30,255.41 L565.05,255.79 L567.81,256.18 L570.56,256.58 L573.32,256.99 L576.08,257.41 L578.83,257.85 L581.59,258.28 L584.35,258.73 L587.10,259.19 L589.86,259.65 L592.61,260.12 L595.37,260.59 L598.13,261.07 L600.88,261.55 L603.64,262.04 L606.40,262.53 L609.15,263.02 L611.91,263.51 L614.66,264.00 L617.42,264.50" fill="none" stroke="#006400" stroke-width="2.2" stroke-linejoin="round"/>
<path d="M68.94,628.50 L71.70,628.28 L74.45,628.07 L77.21,627.85 L79.96,627.63 L82.72,627.41 L85.48,627.19 L88.23,626.97 L90.99,626.74 L93.75,626.51 L96.50,626.28 L99.26,626.05 L102.01,625.81 L104.77,625.57 L107.53,625.33 L110.28,625.08 L113.04,624.82 L115.80,624.56 L118.55,624.30 L121.31,624.03 L124.06,623.75 L126.82,623.46 L129.58,623.17 L132.33,622.88 L135.09,622.57 L137.84,622.26 L140.60,621.94 L143.36,621.61 L146.11,621.28 L148.87,620.93 L151.63,620.59 L154.38,620.23 L157.14,619.87 L159.89,619.50 L162.65,619.12 L165.41,618.74 L168.16,618.36 L170.92,617.96 L173.67,617.57 L176.43,617.16 L179.19,616.76 L181.94,616.35 L184.70,615.93 L187.46,615.51 L190.21,615.09 L192.97,614.66 L195.72,614.24 L198.48,613.80 L201.24,613.37 L203.99,612.93 L206.75,612.49 L209.51,612.05 L212.26,611.60 L215.02,611.16 L217.77,610.71 L220.53,610.26 L223.29,609.80 L226.04,609.35 L228.80,608.89 L231.55,608.43 L234.31,607.97 L237.07,607.51 L239.82,607.04 L242.58,606.58 L245.34,606.11 L248.09,605.64 L250.85,605.16 L253.60,604.69 L256.36,604.21 L259.12,603.73 L261.87,603.25 L264.63,602.77 L267.39,602.28 L270.14,601.80 L272.90,601.31 L275.65,600.82 L278.41,600.32 L281.17,599.83 L283.92,599.33 L286.68,598.83 L289.43,598.33 L292.19,597.83 L294.95,597.33 L297.70,596.83 L300.46,596.32 L303.22,595.81 L305.97,595.31 L308.73,594.80 L311.48,594.29 L314.24,593.78 L317.00,593.27 L319.75,592.76 L322.51,592.25 L325.26,591.73 L328.02,591.22 L330.78,590.71 L333.53,590.20 L336.29,589.68 L339.05,589.17 L341.80,588.66 L344.56,588.14 L347.31,587.63 L350.07,587.12 L352.83,586.61 L355.58,586.09 L358.34,585.58 L361.10,585.07 L363.85,584.56 L366.61,584.05 L369.36,583.55 L372.12,583.04 L374.88,582.53 L377.63,582.03 L380.39,581.52 L383.14,581.02 L385.90,580.52 L388.66,580.02 L391.41,579.52 L394.17,579.03 L396.93,578.53 L399.68,578.04 L402.44,577.55 L405.19,577.06 L407.95,576.57 L410.71,576.08 L413.46,575.60 L416.22,575.12 L418.97,574.64 L421.73,574.16 L424.49,573.69 L427.24,573.21 L430.00,572.74 L432.76,572.28 L435.51,571.81 L438.27,571.35 L441.02,570.89 L443.78,570.44 L446.54,569.98 L449.29,569.53 L452.05,569.09 L454.81,568.64 L457.56,568.20 L460.32,567.76 L463.07,567.33 L465.83,566.90 L468.59,566.47 L471.34,566.05 L474.10,565.63 L476.85,565.21 L479.61,564.80 L482.37,564.39 L485.12,563.99 L487.88,563.59 L490.64,563.19 L493.39,562.80 L496.15,562.42 L498.90,562.03 L501.66,561.66 L504.42,561.29 L507.17,560.92 L509.93,560.56 L512.69,560.20 L515.44,559.85 L518.20,559.51 L520.95,559.17 L523.71,558.83 L526.47,558.51 L529.22,558.19 L531.98,557.87 L534.73,557.57 L537.49,557.26 L540.25,556.97 L543.00,556.68 L545.76,556.41 L548.52,556.13 L551.27,555.87 L554.03,555.61 L556.78,555.36 L559.54,555.12 L562.30,554.88 L565.05,554.65 L567.81,554.42 L570.56,554.20 L573.32,553.99 L576.08,553.78 L578.83,553.57 L581.59,553.37 L584.35,553.17 L587.10,552.98 L589.86,552.79 L592.61,552.60 L595.37,552.42 L598.13,552.23 L600.88,552.05 L603.64,551.88 L606.40,551.70 L609.15,551.52 L611.91,551.35 L614.66,551.17 L617.42,551.00" fill="none" stroke="#C71585" stroke-width="2.2" stroke-linejoin="round"/>
<path d="M274.62,666.00 L276.34,665.97 L278.07,665.93 L279.79,665.90 L281.51,665.87 L283.23,665.84 L284.96,665.80 L286.68,665.77 L288.40,665.74 L290.12,665.71 L291.85,665.68 L293.57,665.65 L295.29,665.62 L297.01,665.59 L298.74,665.57 L300.46,665.54 L302.18,665.51 L303.90,665.49 L305.63,665.46 L307.35,665.44 L309.07,665.42 L310.79,665.40 L312.52,665.38 L314.24,665.36 L315.96,665.34 L317.69,665.33 L319.41,665.31 L321.13,665.30 L322.85,665.29 L324.58,665.28 L326.30,665.27 L328.02,665.27 L329.74,665.26 L331.47,665.26 L333.19,665.26 L334.91,665.26 L336.63,665.27 L338.36,665.27 L340.08,665.28 L341.80,665.29 L343.52,665.30 L345.25,665.32 L346.97,665.33 L348.69,665.35 L350.41,665.37 L352.14,665.40 L353.86,665.42 L355.58,665.44 L357.31,665.47 L359.03,665.50 L360.75,665.53 L362.47,665.55 L364.20,665.58 L365.92,665.61 L367.64,665.64 L369.36,665.67 L371.09,665.70 L372.81,665.73 L374.53,665.76 L376.25,665.79 L377.98,665.82 L379.70,665.85 L381.42,665.87 L383.14,665.90 L384.87,665.92 L386.59,665.94 L388.31,665.96 L390.04,665.98 L391.76,666.00 L393.48,666.01 L395.20,666.03 L396.93,666.04 L398.65,666.04 L400.37,666.05 L402.09,666.05 L403.82,666.05 L405.54,666.04 L407.26,666.04 L408.98,666.03 L410.71,666.01 L412.43,665.99 L414.15,665.97 L415.87,665.94 L417.60,665.91 L419.32,665.88 L421.04,665.84 L422.76,665.80 L424.49,665.75 L426.21,665.70 L427.93,665.64 L429.66,665.59 L431.38,665.52 L433.10,665.46 L434.82,665.39 L436.55,665.31 L438.27,665.23 L439.99,665.15 L441.71,665.06 L443.44,664.97 L445.16,664.87 L446.88,664.77 L448.60,664.67 L450.33,664.56 L452.05,664.45 L453.77,664.33 L455.49,664.21 L457.22,664.09 L458.94,663.96 L460.66,663.82 L462.38,663.69 L464.11,663.55 L465.83,663.40 L467.55,663.25 L469.28,663.09 L471.00,662.93 L472.72,662.77 L474.44,662.60 L476.17,662.43 L477.89,662.25 L479.61,662.07 L481.33,661.89 L483.06,661.70 L484.78,661.50 L486.50,661.30 L488.22,661.10 L489.95,660.89 L491.67,660.67 L493.39,660.45 L495.11,660.23 L496.84,659.99 L498.56,659.76 L500.28,659.51 L502.00,659.26 L503.73,659.00 L505.45,658.73 L507.17,658.46 L508.90,658.18 L510.62,657.89 L512.34,657.60 L514.06,657.29 L515.79,656.98 L517.51,656.66 L519.23,656.33 L520.95,655.99 L522.68,655.65 L524.40,655.29 L526.12,654.92 L527.84,654.54 L529.57,654.15 L531.29,653.75 L533.01,653.33 L534.73,652.91 L536.46,652.47 L538.18,652.02 L539.90,651.55 L541.63,651.07 L543.35,650.58 L545.07,650.07 L546.79,649.55 L548.52,649.01 L550.24,648.46 L551.96,647.89 L553.68,647.30 L555.41,646.70 L557.13,646.09 L558.85,645.46 L560.57,644.82 L562.30,644.17 L564.02,643.51 L565.74,642.83 L567.46,642.15 L569.19,641.45 L570.91,640.74 L572.63,640.03 L574.35,639.31 L576.08,638.57 L577.80,637.83 L579.52,637.09 L581.25,636.34 L582.97,635.58 L584.69,634.81 L586.41,634.04 L588.14,633.27 L589.86,632.49 L591.58,631.70 L593.30,630.91 L595.03,630.12 L596.75,629.33 L598.47,628.53 L600.19,627.73 L601.92,626.92 L603.64,626.11 L605.36,625.30 L607.08,624.49 L608.81,623.68 L610.53,622.87 L612.25,622.05 L613.97,621.23 L615.70,620.42 L617.42,619.60" fill="none" stroke="#FA8072" stroke-width="2.2" stroke-linejoin="round"/>
<text x="17.8" y="211.90" text-anchor="middle" font-family="'Liberation Sans', sans-serif" font-size="13" fill="#4169E1" stroke="#4169E1" stroke-width="0.5">扬</text>
<text x="17.8" y="226.90" text-anchor="middle" font-family="'Liberation Sans', sans-serif" font-size="13" fill="#4169E1" stroke="#4169E1" stroke-width="0.5">程</text>
<text transform="translate(19.80,236.90) rotate(-90)" text-anchor="end" letter-spacing="0.9" font-family="'Liberation Sans', sans-serif" font-weight="bold" font-size="12" fill="#4169E1" stroke="#4169E1" stroke-width="0.3">(m)</text>
<text x="17.8" y="605.90" text-anchor="middle" font-family="'Liberation Sans', sans-serif" font-size="13" fill="#C71585" stroke="#C71585" stroke-width="0.5">功</text>
<text x="17.8" y="620.90" text-anchor="middle" font-family="'Liberation Sans', sans-serif" font-size="13" fill="#C71585" stroke="#C71585" stroke-width="0.5">率</text>
<text transform="translate(19.80,631.20) rotate(-90)" text-anchor="end" letter-spacing="0.9" font-family="'Liberation Sans', sans-serif" font-weight="bold" font-size="12" fill="#C71585" stroke="#C71585" stroke-width="0.3">(kW)</text>
<text x="730" y="279.90" text-anchor="middle" font-family="'Liberation Sans', sans-serif" font-size="13" fill="#006400" stroke="#006400" stroke-width="0.5">效</text>
<text x="730" y="294.90" text-anchor="middle" font-family="'Liberation Sans', sans-serif" font-size="13" fill="#006400" stroke="#006400" stroke-width="0.5">率</text>
<text transform="translate(734.80,308.30) rotate(-90)" text-anchor="end" letter-spacing="0.9" font-family="'Liberation Sans', sans-serif" font-weight="bold" font-size="12" fill="#006400" stroke="#006400" stroke-width="0.3">(%)</text>
<text x="730" y="595.90" text-anchor="middle" font-family="'Liberation Sans', sans-serif" font-size="13" fill="#FA8072" stroke="#FA8072" stroke-width="0.5">汽</text>
<text x="730" y="610.90" text-anchor="middle" font-family="'Liberation Sans', sans-serif" font-size="13" fill="#FA8072" stroke="#FA8072" stroke-width="0.5">蚀</text>
<text transform="translate(734.80,623.70) rotate(-90)" text-anchor="end" letter-spacing="0.9" font-family="'Liberation Sans', sans-serif" font-weight="bold" font-size="12" fill="#FA8072" stroke="#FA8072" stroke-width="0.3">(m)</text>
</svg>
<div class="xt" style="left:342.2px;top:756.5px"><span style="font-weight:normal;-webkit-text-stroke:0.4px #000">流量</span> (m³/h)</div>
</body></html>
